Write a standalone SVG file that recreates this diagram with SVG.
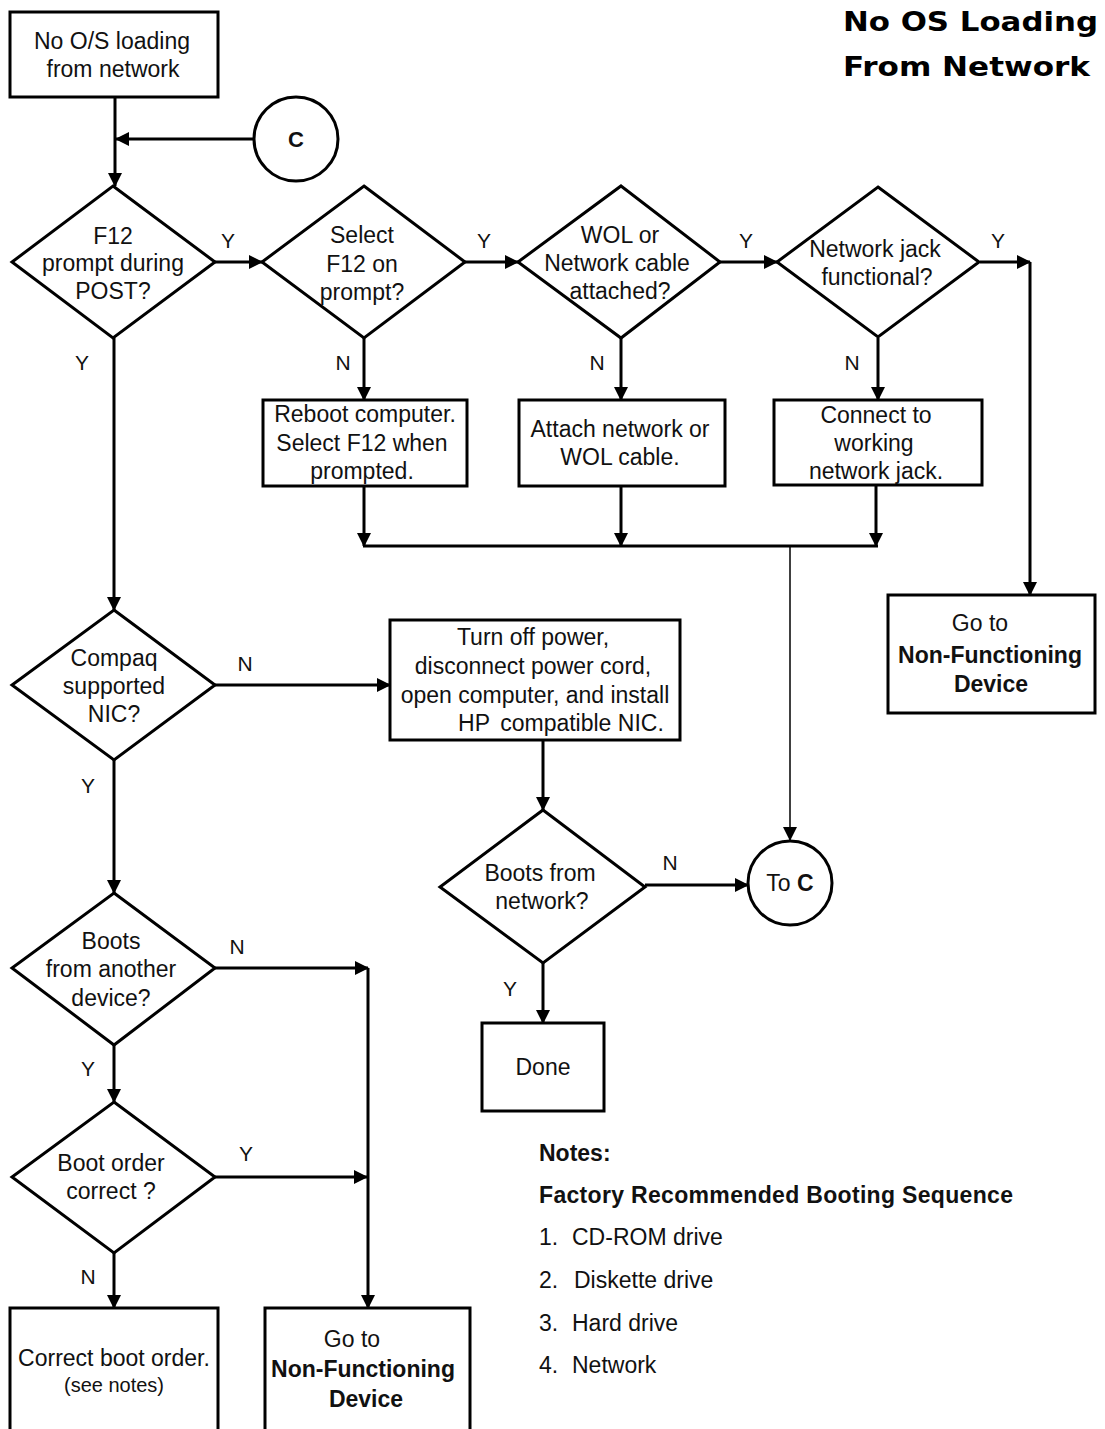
<svg xmlns="http://www.w3.org/2000/svg" width="1105" height="1429" viewBox="0 0 1105 1429">
<style>
.s{fill:#fff;stroke:#000;stroke-width:3}
.t{font-family:"Liberation Sans",Arial,sans-serif;font-size:23px;fill:#111;text-anchor:middle}
.b{font-weight:bold}
.l{font-family:"Liberation Sans",Arial,sans-serif;font-size:21px;fill:#111;text-anchor:middle}
.n{font-family:"Liberation Sans",Arial,sans-serif;font-size:23px;fill:#111}
.c{fill:none;stroke:#000;stroke-width:3}
.thin{fill:none;stroke:#000;stroke-width:1.5}
</style>
<defs>
<marker id="ah" markerUnits="userSpaceOnUse" markerWidth="14" markerHeight="14" refX="13" refY="7" orient="auto">
<path d="M0,0 L14,7 L0,14 z" fill="#000"/>
</marker>
</defs>
<rect width="1105" height="1429" fill="#fff"/>

<g id="title">
<text x="1098" y="31" text-anchor="end" font-family="'DejaVu Sans',sans-serif" font-weight="bold" font-size="27" textLength="255" lengthAdjust="spacingAndGlyphs">No OS Loading</text>
<text x="1090" y="76" text-anchor="end" font-family="'DejaVu Sans',sans-serif" font-weight="bold" font-size="27" textLength="247" lengthAdjust="spacingAndGlyphs">From Network</text>
</g>

<g id="connectors">
<path class="c" d="M115,97 V186" marker-end="url(#ah)"/>
<path class="c" d="M254,139 H116" marker-end="url(#ah)"/>
<path class="c" d="M215,262 H262" marker-end="url(#ah)"/>
<path class="c" d="M465,262 H518" marker-end="url(#ah)"/>
<path class="c" d="M720,262 H777" marker-end="url(#ah)"/>
<path class="c" d="M980,262 H1030" marker-end="url(#ah)"/>
<path class="c" d="M1030,262 V595" marker-end="url(#ah)"/>
<path class="c" d="M364,338 V400" marker-end="url(#ah)"/>
<path class="c" d="M621,338 V400" marker-end="url(#ah)"/>
<path class="c" d="M878,338 V400" marker-end="url(#ah)"/>
<path class="c" d="M364,486 V546" marker-end="url(#ah)"/>
<path class="c" d="M621,486 V546" marker-end="url(#ah)"/>
<path class="c" d="M876,486 V546" marker-end="url(#ah)"/>
<path class="c" d="M363,546 H878"/>
<path class="thin" d="M790,546 V840" marker-end="url(#ah)"/>
<path class="c" d="M114,338 V610" marker-end="url(#ah)"/>
<path class="c" d="M215,685 H390" marker-end="url(#ah)"/>
<path class="c" d="M543,740 V810" marker-end="url(#ah)"/>
<path class="c" d="M645,885 H748" marker-end="url(#ah)"/>
<path class="c" d="M543,963 V1023" marker-end="url(#ah)"/>
<path class="c" d="M114,760 V893" marker-end="url(#ah)"/>
<path class="c" d="M215,968 H368" marker-end="url(#ah)"/>
<path class="c" d="M368,968 V1308" marker-end="url(#ah)"/>
<path class="c" d="M114,1045 V1102" marker-end="url(#ah)"/>
<path class="c" d="M215,1177 H367" marker-end="url(#ah)"/>
<path class="c" d="M114,1253 V1308" marker-end="url(#ah)"/>
<g class="l">
<text x="228" y="248">Y</text>
<text x="484" y="248">Y</text>
<text x="746" y="248">Y</text>
<text x="998" y="248">Y</text>
<text x="82" y="370">Y</text>
<text x="343" y="370">N</text>
<text x="597" y="370">N</text>
<text x="852" y="370">N</text>
<text x="245" y="671">N</text>
<text x="88" y="793">Y</text>
<text x="670" y="870">N</text>
<text x="510" y="996">Y</text>
<text x="237" y="954">N</text>
<text x="88" y="1076">Y</text>
<text x="246" y="1161">Y</text>
<text x="88" y="1284">N</text>
</g>
</g>

<g id="start">
<rect class="s" x="10" y="12" width="208" height="85"/>
<text class="t" x="112" y="49">No O/S loading</text>
<text class="t" x="113" y="77">from network</text>
</g>

<g id="connC">
<circle class="s" cx="296" cy="139" r="42"/>
<text class="t b" x="296" y="147" style="font-size:22px">C</text>
</g>

<g id="d1">
<polygon class="s" points="113,186 215,262 113,338 12,262"/>
<text class="t" x="113" y="244">F12</text>
<text class="t" x="113" y="271">prompt during</text>
<text class="t" x="113" y="299">POST?</text>
</g>

<g id="d2">
<polygon class="s" points="364,186 465,262 364,338 262,262"/>
<text class="t" x="362" y="243">Select</text>
<text class="t" x="362" y="272">F12 on</text>
<text class="t" x="362" y="300">prompt?</text>
</g>

<g id="d3">
<polygon class="s" points="621,186 720,262 621,338 518,262"/>
<text class="t" x="620" y="243">WOL or</text>
<text class="t" x="617" y="271">Network cable</text>
<text class="t" x="620" y="299">attached?</text>
</g>

<g id="d4">
<polygon class="s" points="878,187 979,262 878,337 777,262"/>
<text class="t" x="875" y="257">Network jack</text>
<text class="t" x="877" y="285">functional?</text>
</g>

<g id="reboot">
<rect class="s" x="263" y="400" width="204" height="86"/>
<text class="t" x="365" y="422">Reboot computer.</text>
<text class="t" x="362" y="451">Select F12 when</text>
<text class="t" x="362" y="479">prompted.</text>
</g>

<g id="attach">
<rect class="s" x="519" y="400" width="206" height="86"/>
<text class="t" x="620" y="437">Attach network or</text>
<text class="t" x="620" y="465">WOL cable.</text>
</g>

<g id="connect">
<rect class="s" x="774" y="400" width="208" height="85"/>
<text class="t" x="876" y="423">Connect to</text>
<text class="t" x="874" y="451">working</text>
<text class="t" x="876" y="479">network jack.</text>
</g>

<g id="nf1">
<rect class="s" x="888" y="595" width="207" height="118"/>
<text class="t" x="980" y="631">Go to</text>
<text class="t b" x="990" y="663">Non-Functioning</text>
<text class="t b" x="991" y="692">Device</text>
</g>

<g id="d5">
<polygon class="s" points="114,610 215,685 114,760 12,685"/>
<text class="t" x="114" y="666">Compaq</text>
<text class="t" x="114" y="694">supported</text>
<text class="t" x="114" y="722">NIC?</text>
</g>

<g id="install">
<rect class="s" x="390" y="620" width="290" height="120"/>
<text class="t" x="533" y="645">Turn off power,</text>
<text class="t" x="533" y="674">disconnect power cord,</text>
<text class="t" x="535" y="703">open computer, and install</text>
<text class="t" y="731"><tspan x="474">HP</tspan><tspan x="582">compatible NIC.</tspan></text>
</g>

<g id="d6">
<polygon class="s" points="543,810 645,887 543,963 440,887"/>
<text class="t" x="540" y="881">Boots from</text>
<text class="t" x="542" y="909">network?</text>
</g>

<g id="toC">
<circle class="s" cx="790" cy="883" r="42"/>
<text class="t" x="790" y="891"><tspan>To </tspan><tspan font-weight="bold">C</tspan></text>
</g>

<g id="done">
<rect class="s" x="482" y="1023" width="122" height="88"/>
<text class="t" x="543" y="1075">Done</text>
</g>

<g id="d7">
<polygon class="s" points="114,893 215,968 114,1045 12,968"/>
<text class="t" x="111" y="949">Boots</text>
<text class="t" x="111" y="977">from another</text>
<text class="t" x="111" y="1006">device?</text>
</g>

<g id="d8">
<polygon class="s" points="114,1102 215,1177 114,1253 12,1177"/>
<text class="t" x="111" y="1171">Boot order</text>
<text class="t" x="111" y="1199">correct ?</text>
</g>

<g id="correct">
<rect class="s" x="10" y="1308" width="208" height="125"/>
<text class="t" x="114" y="1366">Correct boot order.</text>
<text class="t" x="114" y="1392" style="font-size:20px">(see notes)</text>
</g>

<g id="nf2">
<rect class="s" x="265" y="1308" width="205" height="125"/>
<text class="t" x="352" y="1347">Go to</text>
<text class="t b" x="363" y="1377">Non-Functioning</text>
<text class="t b" x="366" y="1407">Device</text>
</g>

<g id="notes">
<text class="n b" x="539" y="1161">Notes:</text>
<text class="n b" x="539" y="1203" textLength="474" lengthAdjust="spacing">Factory Recommended Booting Sequence</text>
<text class="n" y="1245"><tspan x="539">1.</tspan><tspan x="572">CD-ROM drive</tspan></text>
<text class="n" y="1288"><tspan x="539">2.</tspan><tspan x="574">Diskette drive</tspan></text>
<text class="n" y="1331"><tspan x="539">3.</tspan><tspan x="572">Hard drive</tspan></text>
<text class="n" y="1373"><tspan x="539">4.</tspan><tspan x="572">Network</tspan></text>
</g>
</svg>
